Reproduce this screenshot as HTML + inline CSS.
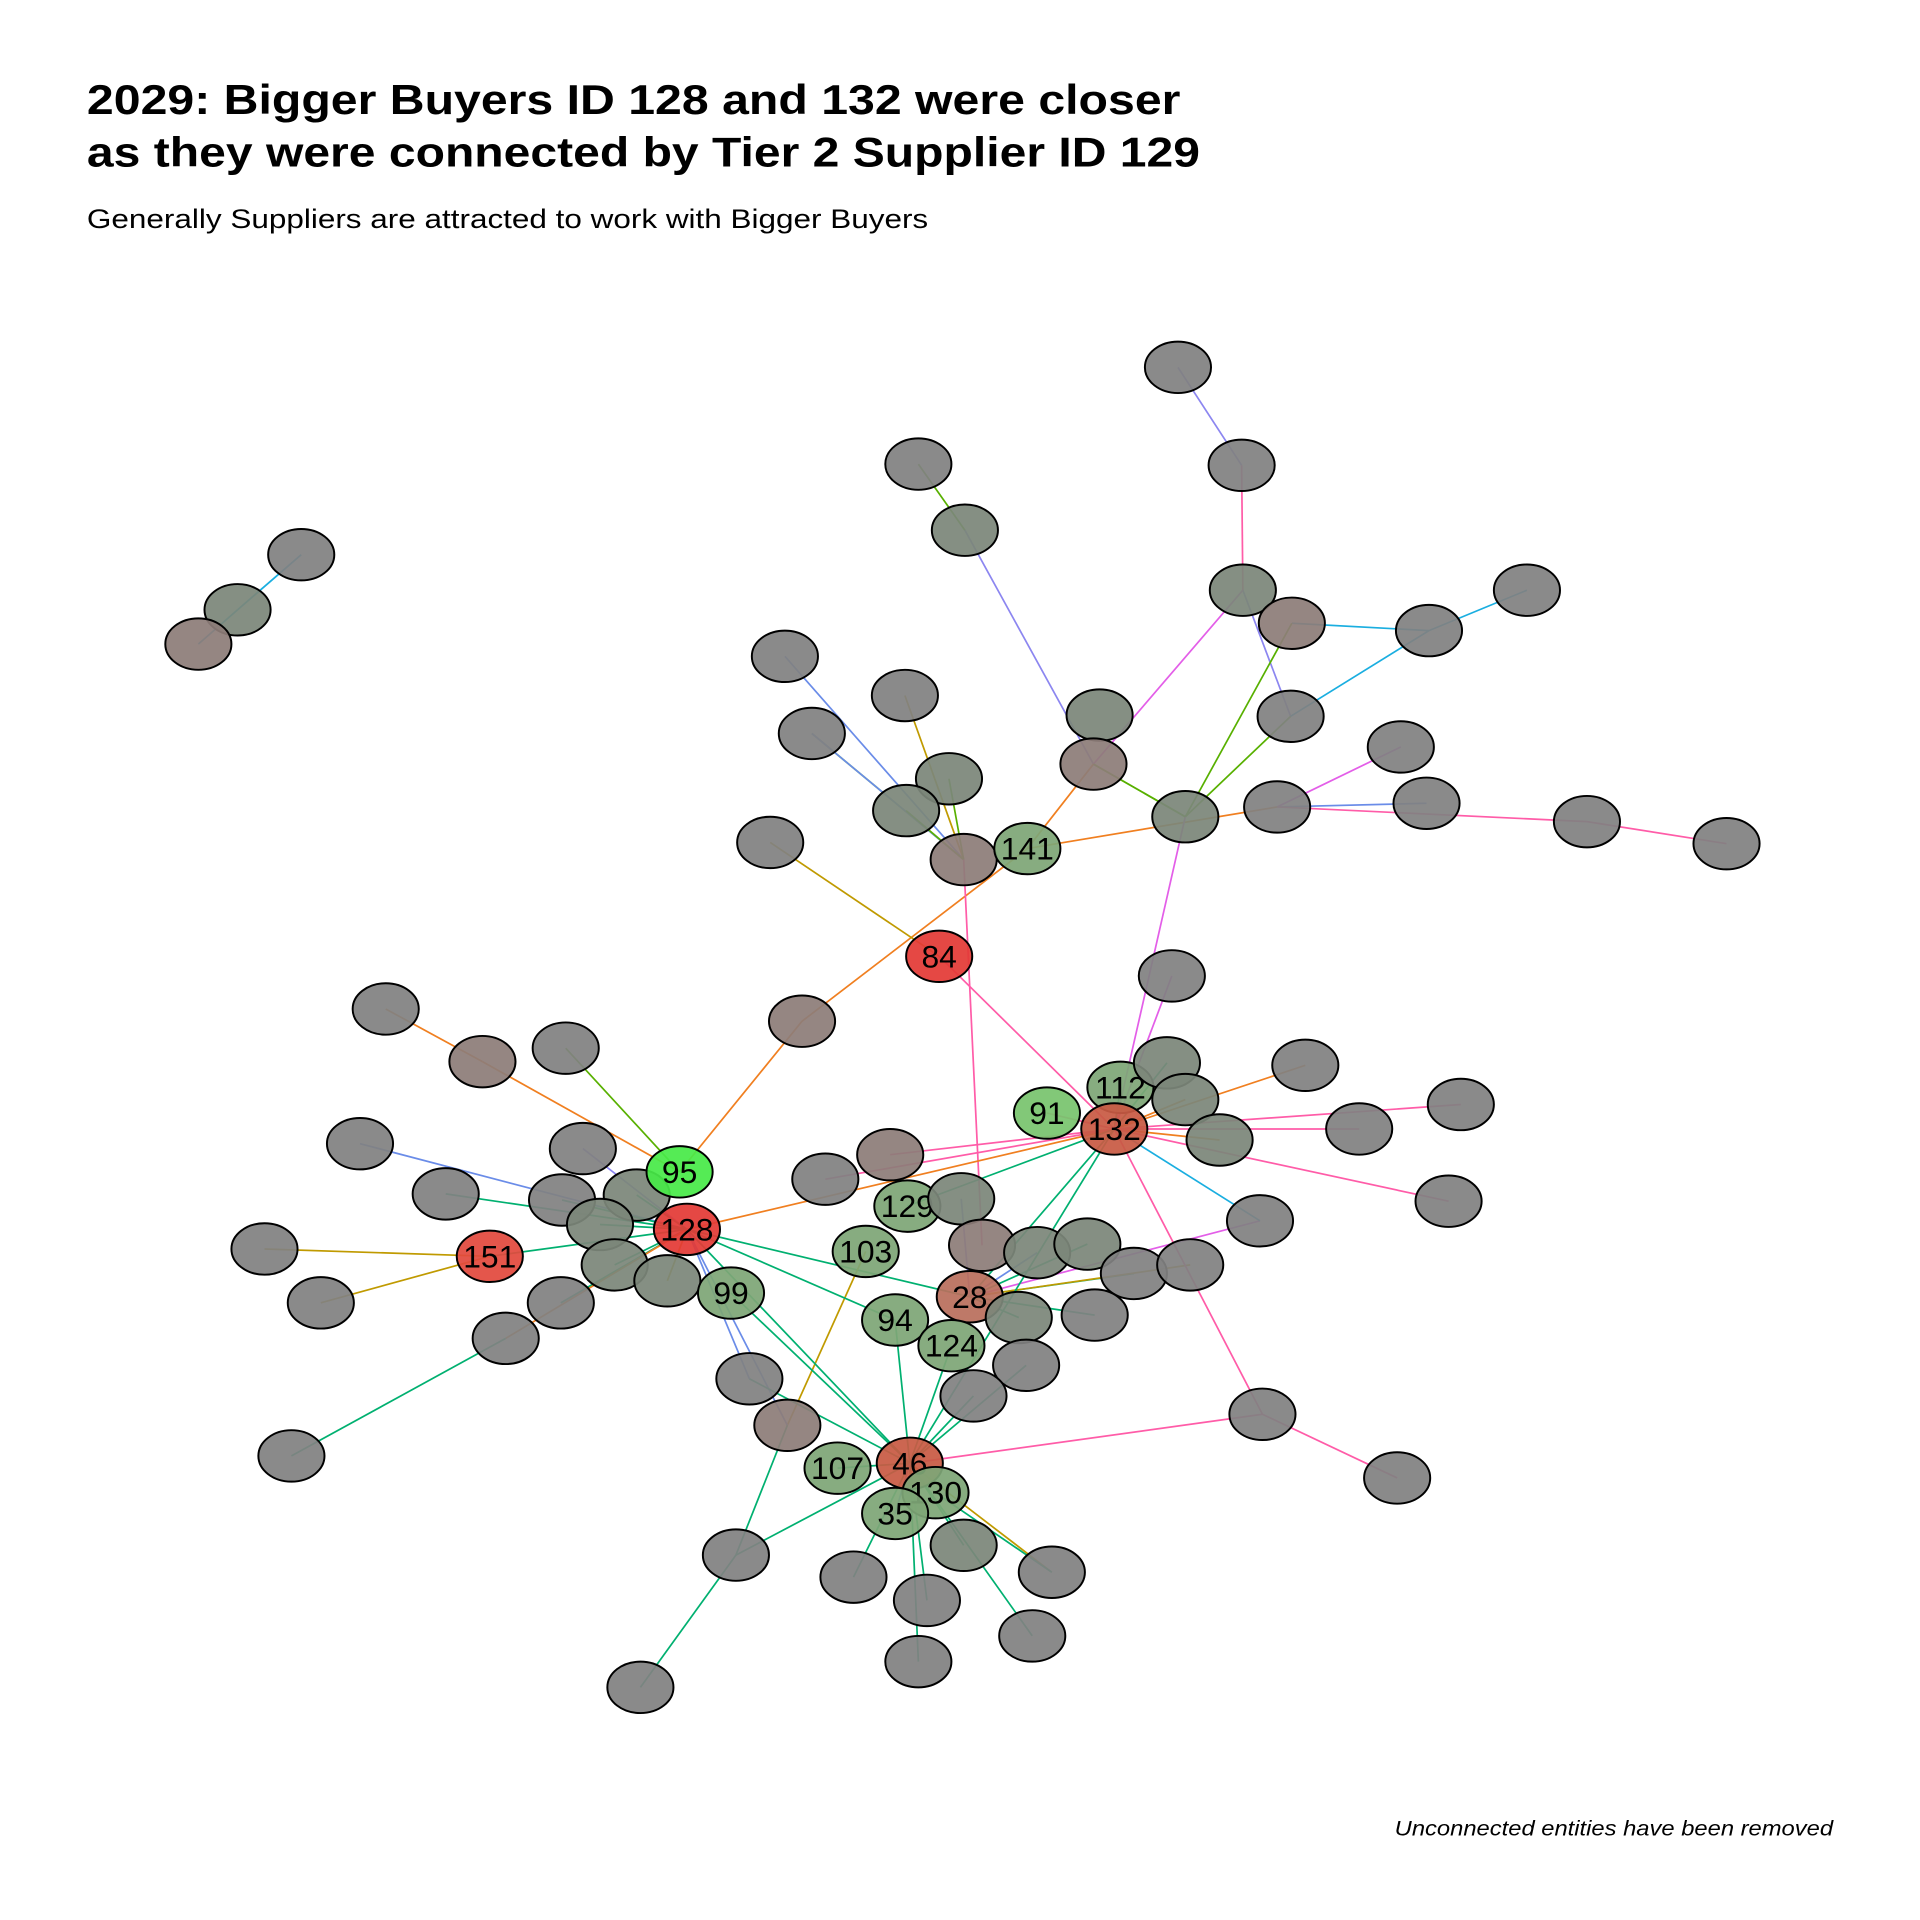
<!DOCTYPE html>
<html><head><meta charset="utf-8">
<style>html,body{margin:0;padding:0;background:#fff;}svg{display:block;}</style>
</head><body>
<svg id="chart" width="1920" height="1920" viewBox="0 0 1568 1568" xmlns="http://www.w3.org/2000/svg" font-family="Liberation Sans, Arial, sans-serif">
<text x="71" y="93" font-size="34" font-weight="bold" textLength="893" lengthAdjust="spacingAndGlyphs">2029: Bigger Buyers ID 128 and 132 were closer</text>
<text x="71" y="136" font-size="34" font-weight="bold" textLength="909" lengthAdjust="spacingAndGlyphs">as they were connected by Tier 2 Supplier ID 129</text>
<text x="71" y="186" font-size="22" textLength="687" lengthAdjust="spacingAndGlyphs">Generally Suppliers are attracted to work with Bigger Buyers</text>
<text x="1497" y="1499" font-size="17.5" font-style="italic" text-anchor="end" textLength="358" lengthAdjust="spacingAndGlyphs">Unconnected entities have been removed</text>
<g id="edges"></g>
<g id="nodes"></g>
</svg>
<script>
const nodeIds = ["a1","a2","a3","a4","a5","a6","a7","a8","a9","a10","hubN","a12","a13","a14","a15","a16","a17","b1","b2","b3","b4","b5","hub141b","n141","b8","n84","b10","c1","c2","c3","c4","c5","c6","c7","c8","c9","n95","n128","d1","d2","d3","d4","d5","n151","d7","d8","d9","n99","e1","e2","e3","e4","n129","e6","n103","e8","n28","n94","n124","f1","f2","f3","f4","f5","f6","f7","f8","n91","n112","n132","g1","g2","g3","g4","g5","g6","g7","g8","g9","n46","n107","n130","n35","h1","h2","h3","h4","h5","h6","h7","h8","h9","k1","k2","k3"];
const nodeX = [962,1014,750,788,1015,1055,1167,1247,1054,898,893,968,1043,1144,1165,1296,1410,641,739,663,775,740,787,839,629,767,655,957,315,394,462,294,476,364,459,520,555,561,490,502,545,458,413,400,216,262,238,597,612,643,674,727,741,785,707,802,792,731,777,832,847,888,926,972,894,838,795,855,915,910,953,968,996,1066,1110,1193,1183,1029,1031,743,684,764,731,1141,787,601,697,757,859,843,750,523,246,194,162];
const nodeY = [300,380,379,433,482,509,515,482,585,584,624,667,659,610,656,671,689,536,568,599,636,662,702,693,688,781,834,797,824,867,856,934,938,975,980,976,957,1004,1000,1033,1046,1064,1093,1026,1020,1064,1189,1056,1126,1164,963,943,985,979,1022,1017,1059,1078,1099,1076,1023,1016,1040,1033,1074,1115,1140,909,888,922,868,898,931,870,922,902,981,997,1155,1195,1199,1219,1236,1207,1262,1270,1288,1307,1284,1336,1357,1378,453,498,526];
const nodeLabels = {n141:"141",n84:"84",n95:"95",n128:"128",n151:"151",n99:"99",n129:"129",n103:"103",n28:"28",n94:"94",n124:"124",n91:"91",n112:"112",n132:"132",n46:"46",n107:"107",n130:"130",n35:"35"};
const nodeKinds = {a6:"B",hubN:"B",hub141b:"B",b10:"B",c3:"B",e2:"B",e4:"B",e8:"B",k3:"B",
 a10:"T",a12:"T",a5:"T",a4:"T",b4:"T",b5:"T",c9:"T",d1:"T",d2:"T",d3:"T",e6:"T",f1:"T",f2:"T",f3:"T",g1:"T",g2:"T",g3:"T",h2:"T",k2:"T",
 n141:"L",n129:"L",n103:"L",n94:"L",n124:"L",n112:"L",n107:"L",n130:"L",n35:"L",n99:"L",n91:"L2",n95:"L3",
 n128:"R",n84:"R",n151:"R2",n132:"R3",n28:"R4",n46:"R3"};
const kindFill = {G:"#818181",T:"#7c867a",B:"#8d7d78",L:"#7ea676",L2:"#78c46e",L3:"#48ea48",R:"#e33a36",R2:"#e2493d",R3:"#c85a44",R4:"#b96f5d"};
const GR="#00b070",PK="#ff5ca8",OR="#f07f20",OL="#c09a00",BL="#6a8ce8",VI="#8c86f0",CY="#1aaee0",MG="#e35ee8",LG="#58b000";
const edgeSrc = ["a1","a5","a4","a4","a5","a5","a7","a7","a7","a12","a12","a12","n141","a14","a15","a16","a12","b1","b3","b3","b2","b4","b5","n141","hubN","n141","b8","n84","hub141b","c2","n95","n95","n95","c5","c6","c7","c8","c9","d1","d2","d3","d4","d5","d5","n151","d8","n151","n128","n128","e4","e3","n129","n103","n128","n128","n99","n128","e1","n94","n124","n46","h3","h3","f1","f2","f3","f4","f5","f6","e6","g8","n132","n132","n128","g1","g2","g3","g4","g5","g6","g7","g8","n91","n112","c1","n132","g9","g9","f7","f8","h2","h4","h5","h6","h7","h8","n107","n130","n35","k2","k3","a16"];
const edgeDst = ["a2","a2","a3","hubN","a9","hubN","a6","a8","a9","a6","a9","hubN","a13","a13","a13","a13","n132","hub141b","hub141b","hub141b","hub141b","hub141b","hub141b","hubN","a12","b10","n84","n132","e8","c3","c3","c4","b10","n128","n128","n128","n128","n128","n128","n128","n128","n128","n128","d9","d7","n151","n128","n132","n28","n132","n132","n132","e2","n46","e2","n46","n94","n46","n46","n46","h3","e2","h9","n28","n28","n28","n28","n28","n28","n28","n28","n28","n46","e1","n132","n132","n132","n132","n132","n132","n132","n132","n132","n132","n132","g9","n46","h1","n46","n46","n46","n46","n46","n46","n46","n46","n46","h6","n46","k1","k2","a17"];
const edgeCol = [VI,PK,LG,VI,VI,MG,CY,CY,CY,LG,LG,LG,OR,MG,BL,PK,MG,BL,LG,BL,OL,LG,LG,OR,LG,OR,OL,PK,PK,OR,OR,LG,OR,BL,VI,GR,GR,GR,GR,GR,OL,GR,OR,GR,OL,OL,GR,OR,GR,PK,PK,GR,OL,GR,BL,GR,GR,GR,GR,GR,GR,GR,GR,GR,BL,GR,GR,OL,GR,VI,MG,GR,GR,BL,GR,OR,OR,OR,PK,PK,PK,CY,PK,GR,MG,PK,PK,PK,GR,GR,GR,GR,GR,OL,GR,GR,GR,GR,BL,CY,CY,PK];
const rx = 27, ry = 21;
const NS = "http://www.w3.org/2000/svg";
function pos(id){const i=nodeIds.indexOf(id);return i<0?null:[nodeX[i],nodeY[i]];}
const eg=document.getElementById("edges");
for(let i=0;i<edgeSrc.length;i++){
  const s=pos(edgeSrc[i]), t=pos(edgeDst[i]); if(!s||!t) continue;
  const l=document.createElementNS(NS,"line");
  
  
  l.setAttribute("x1",s[0]);l.setAttribute("y1",s[1]);l.setAttribute("x2",t[0]);l.setAttribute("y2",t[1]);
  l.setAttribute("stroke",edgeCol[i]);l.setAttribute("stroke-width","1.4");
  eg.appendChild(l);
}
const ng=document.getElementById("nodes");
for(let i=0;i<nodeIds.length;i++){
  const id=nodeIds[i];
  const g=document.createElementNS(NS,"g");
  
  
  const e=document.createElementNS(NS,"ellipse");
  e.setAttribute("cx",nodeX[i]);e.setAttribute("cy",nodeY[i]);e.setAttribute("rx",rx);e.setAttribute("ry",ry);
  e.setAttribute("fill",kindFill[nodeKinds[id]||"G"]);e.setAttribute("fill-opacity","0.93");
  e.setAttribute("stroke","#000");e.setAttribute("stroke-width","1.6");
  g.appendChild(e);
  if(nodeLabels[id]){
    const t=document.createElementNS(NS,"text");
    
    
    t.setAttribute("x",nodeX[i]);t.setAttribute("y",nodeY[i]+9);t.setAttribute("text-anchor","middle");
    t.setAttribute("font-size","26");t.textContent=nodeLabels[id];
    g.appendChild(t);
  }
  ng.appendChild(g);
}
</script>
</body></html>
